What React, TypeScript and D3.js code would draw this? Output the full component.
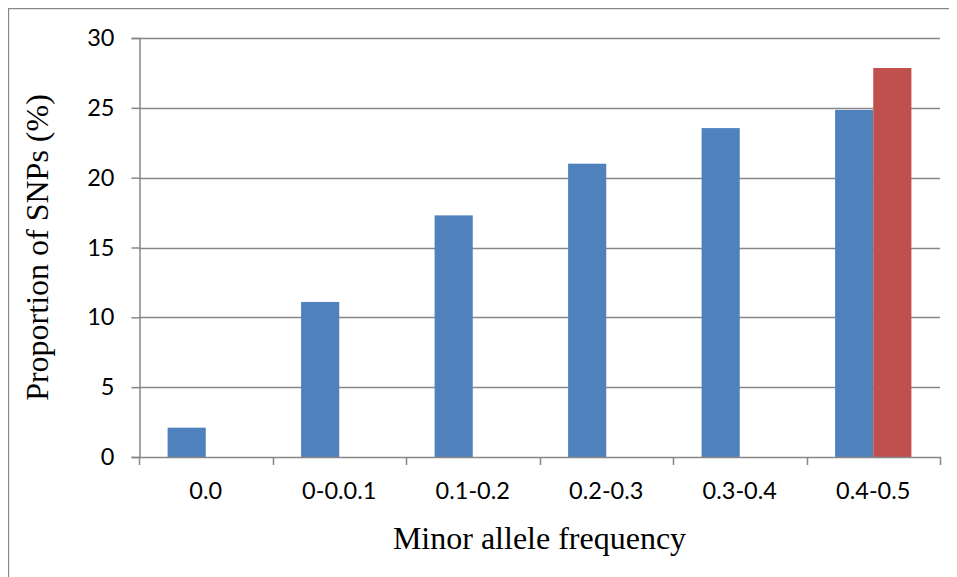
import React, { useRef, useEffect } from 'react';
import * as d3 from 'd3';

// Data
const categories = ['0.0', '0-0.0.1', '0.1-0.2', '0.2-0.3', '0.3-0.4', '0.4-0.5'];
const seriesNames = ['Series 1', 'Series 2'];
const series1 = [2.1, 11.1, 17.3, 21.0, 23.55, 24.85];
const series2 = [0, 0, 0, 0, 0, 27.85];
const yTicks = [0, 5, 10, 15, 20, 25, 30];
const seriesColors = ['#4F81BD', '#C0504D'];

const W = 949;
const H = 569;
const GRAY = '#878787';

const App = () => {
  const svgRef = useRef<SVGSVGElement | null>(null);

  useEffect(() => {
    const root = d3.select(svgRef.current);
    root.selectAll('*').remove();

    // plot area (svg coords = page coords - 8px body margin)
    const left = 131;
    const right = 932;
    const top = 30;
    const bottom = 449;

    const x = d3.scaleBand<string>().domain(categories).range([left, right]);
    // two bars per group with a 150% gap, like the original spreadsheet chart
    const barW = x.bandwidth() / 3.5;
    const inner = d3
      .scaleBand<string>()
      .domain(seriesNames)
      .range([barW * 0.75, barW * 2.75]);
    const y = d3.scaleLinear().domain([0, 30]).range([bottom, top]);

    // outer frame (top and left edges are visible in the reference)
    root
      .append('path')
      .attr('d', `M0.5,${H} V0.5 H${W}`)
      .attr('fill', 'none')
      .attr('stroke', GRAY)
      .attr('stroke-width', 1.3);

    // gridlines
    root
      .append('g')
      .selectAll('line')
      .data(yTicks.filter((t) => t > 0))
      .join('line')
      .attr('x1', left)
      .attr('x2', right)
      .attr('y1', (d) => Math.round(y(d)) + 0.5)
      .attr('y2', (d) => Math.round(y(d)) + 0.5)
      .attr('stroke', GRAY)
      .attr('stroke-width', 1.5);

    // bars
    const data = [series1, series2];
    data.forEach((vals, si) => {
      root
        .append('g')
        .selectAll('rect')
        .data(vals)
        .join('rect')
        .attr('x', (d, i) => (x(categories[i]) as number) + (inner(seriesNames[si]) as number))
        .attr('width', inner.bandwidth())
        .attr('y', (d) => y(d))
        .attr('height', (d) => y(0) - y(d))
        .attr('fill', seriesColors[si]);
    });

    // y axis
    const yAxis = d3
      .axisLeft(y)
      .tickValues(yTicks)
      .tickSize(8)
      .tickPadding(17)
      .tickFormat(d3.format('d'));
    const gy = root.append('g').attr('transform', `translate(${left + 0.5},0)`).call(yAxis);
    gy.select('.domain').attr('stroke', GRAY).attr('stroke-width', 1.5);
    gy.selectAll('.tick line').attr('stroke', GRAY).attr('stroke-width', 1.5);
    gy.selectAll('.tick text')
      .attr('font-family', 'Lato, "Open Sans", sans-serif')
      .attr('font-size', 23.5)
      .attr('fill', '#000');

    // x axis: ticks at the category boundaries
    const xAxisLine = root.append('g');
    xAxisLine
      .append('line')
      .attr('x1', left)
      .attr('x2', right + 1)
      .attr('y1', y(0) + 0.5)
      .attr('y2', y(0) + 0.5)
      .attr('stroke', GRAY)
      .attr('stroke-width', 1.5);
    const bounds = categories.map((c) => x(c) as number).concat([right]);
    xAxisLine
      .selectAll('line.tick')
      .data(bounds)
      .join('line')
      .attr('class', 'tick')
      .attr('x1', (d) => Math.round(d) + 0.5)
      .attr('x2', (d) => Math.round(d) + 0.5)
      .attr('y1', y(0))
      .attr('y2', y(0) + 8)
      .attr('stroke', GRAY)
      .attr('stroke-width', 1.5);
    root
      .append('g')
      .selectAll('text')
      .data(categories)
      .join('text')
      .attr('x', (d) => (x(d) as number) + x.bandwidth() / 2)
      .attr('y', 491)
      .attr('text-anchor', 'middle')
      .attr('font-family', 'Lato, "Open Sans", sans-serif')
      .attr('font-size', 23.5)
      .attr('fill', '#000')
      .text((d) => d);

    // axis titles
    root
      .append('text')
      .attr('x', (left + right) / 2)
      .attr('y', 541)
      .attr('text-anchor', 'middle')
      .attr('font-family', '"Liberation Serif", "Times New Roman", serif')
      .attr('font-size', 32)
      .attr('fill', '#000')
      .text('Minor allele frequency');

    root
      .append('text')
      .attr('transform', `translate(40,${(top + bottom) / 2}) rotate(-90)`)
      .attr('text-anchor', 'middle')
      .attr('font-family', '"Liberation Serif", "Times New Roman", serif')
      .attr('font-size', 32)
      .attr('fill', '#000')
      .text('Proportion of SNPs (%)');
  }, []);

  return <svg ref={svgRef} width={W} height={H} style={{ display: 'block' }}></svg>;
};

export default App;
